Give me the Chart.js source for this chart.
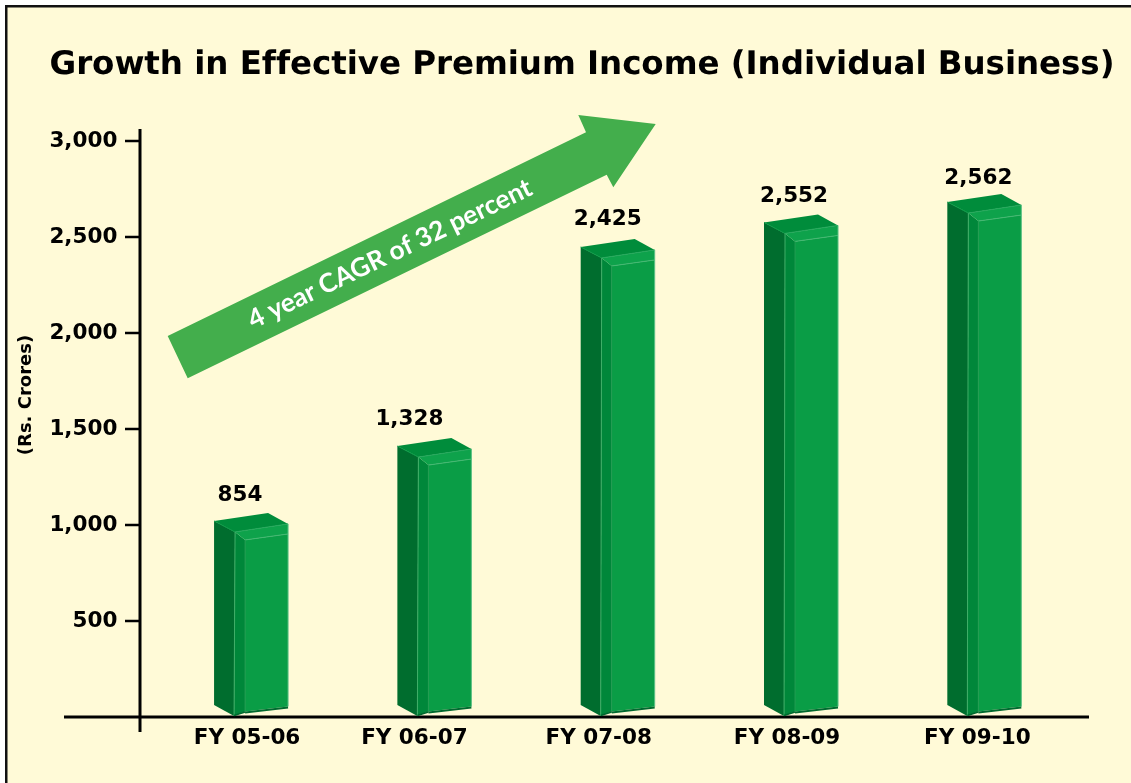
<!DOCTYPE html>
<html>
<head>
<meta charset="utf-8">
<style>html,body{margin:0;padding:0;background:#fff}canvas{display:block}</style>
<script src="https://cdn.jsdelivr.net/npm/chart.js@4"></script>
</head>
<body>
<div style="width:1131px;height:783px"><canvas id="c" width="1131" height="783"></canvas></div>
<script>
const categories = ['FY 05-06','FY 06-07','FY 07-08','FY 08-09','FY 09-10'];
const valueLabels = ['854','1,328','2,425','2,552','2,562'];
// heights of the 3D columns as drawn (rear-left top corner read against the axis)
const drawnHeights = [1021,1411,2448,2576,2682];
const yTicks = [500,1000,1500,2000,2500,3000];
const titleText = 'Growth in Effective Premium Income (Individual Business)';
const yTitle = '(Rs. Crores)';
const arrowText = '4 year CAGR of 32 percent';

const FONT = '"DejaVu Sans"';
const catShift = [-4,-20,-19,-14,-7];
const valShift = [[-11,-26],[-25,-27],[-10,-28],[-7,-26],[-6,-24]];

class Bar3DElement extends Chart.BarElement {
  static id = 'bar3d';
  draw(ctx){
    const {x,y,base,width} = this.getProps(['x','y','base','width']);
    const L = x - width/2, R = x + width/2;
    const k = width/74;
    const poly = (pts,fill)=>{ctx.beginPath();pts.forEach((p,i)=>i?ctx.lineTo(p[0],p[1]):ctx.moveTo(p[0],p[1]));ctx.closePath();ctx.fillStyle=fill;ctx.fill();};
    const line = (a,b,col,w)=>{ctx.beginPath();ctx.moveTo(a[0],a[1]);ctx.lineTo(b[0],b[1]);ctx.strokeStyle=col;ctx.lineWidth=w;ctx.stroke();};
    const tBack=[L,y], tPeak=[L+54*k,y-8], tRight=[R,y+3], tFront=[L+21*k,y+11], tInner=[L+31*k,y+19], tInnerR=[R,y+13];
    const bBack=[L,base-12], bFront=[L+20*k,base-1], bInner=[L+31*k,base-5.5], bRight=[R,base-10.5];
    ctx.save();
    poly([tBack,tFront,bFront,bBack],'#006d2e');
    poly([tFront,tInner,bInner,bFront],'#00873a');
    poly([tInner,tInnerR,bRight,bInner],'#0a9d46');
    poly([tBack,tPeak,tRight,tFront],'#008c3b');
    poly([tFront,tRight,tInnerR,tInner],'#0ea24b');
    line(tBack,tFront,'#0d9a48',1);
    line(tFront,bFront,'#3fae68',1);
    line(tFront,tRight,'#27a95e',1);
    line(tInner,tInnerR,'#45b873',1);
    line(tInner,bInner,'#1f9a50',1);
    line(tRight,bRight,'#5cc085',1);
    line([bInner[0],bInner[1]+1],[bRight[0],bRight[1]+1],'#00692f',2);
    line([bFront[0],bFront[1]-0.5],[bInner[0],bInner[1]+0.5],'#00692f',1.5);
    ctx.restore();
  }
}
class Bar3DController extends Chart.BarController {
  static id = 'bar3d';
  static defaults = {...Chart.BarController.defaults, dataElementType:'bar3d'};
}
Chart.register(Bar3DElement, Bar3DController);

const framePlugin = {
  id:'frame',
  beforeDraw(chart){
    const {ctx,width,height} = chart;
    ctx.save();
    ctx.fillStyle='#fffad7';
    ctx.fillRect(6,6,width-6,height-6);
    ctx.fillStyle='#111';
    ctx.fillRect(5,5,width-5,2.5);
    ctx.fillRect(5,5,2.5,height-5);
    // chart title
    ctx.fillStyle='#000';ctx.textAlign='left';ctx.textBaseline='middle';
    ctx.font='bold 32.5px '+FONT;
    ctx.textRendering='geometricPrecision';
    const natural=ctx.measureText(titleText).width;
    ctx.letterSpacing=((1063-natural)/titleText.length)+'px';
    ctx.fillText(titleText,49.5,66);
    ctx.letterSpacing='0px';
    ctx.textRendering='auto';
    ctx.restore();
  }
};

const annotationPlugin = {
  id:'annotations',
  beforeDatasetsDraw(chart){
    const {ctx} = chart;
    const y = chart.scales.y;
    ctx.save();
    // arrow
    const arrow=[[167.7,336],[187.7,378.3],[606.7,174.7],[613.3,187.3],[655.7,124],[578.3,115],[586,132.3]];
    ctx.beginPath();arrow.forEach((p,i)=>i?ctx.lineTo(p[0],p[1]):ctx.moveTo(p[0],p[1]));ctx.closePath();
    ctx.fillStyle='#43ae4c';ctx.fill();
    ctx.translate(390,254);ctx.rotate(-25.7*Math.PI/180);
    ctx.fillStyle='#fff';ctx.font='700 26.2px Lato';ctx.textAlign='center';ctx.textBaseline='middle';
    ctx.fillText(arrowText,0,0);
    ctx.restore();
    // axes
    ctx.save();
    ctx.fillStyle='#000';
    const y0=y.getPixelForValue(0), axX=140;
    ctx.fillRect(axX-1.5,129,3,603);
    ctx.fillRect(64,y0-1.5,1025,3);
    yTicks.forEach(v=>{ctx.fillRect(125,y.getPixelForValue(v)-1.25,15,2.5);});
    ctx.restore();
  },
  afterDatasetsDraw(chart){
    const {ctx} = chart;
    const x = chart.scales.x;
    const meta = chart.getDatasetMeta(0);
    ctx.save();
    ctx.fillStyle='#000';ctx.textAlign='center';ctx.textBaseline='middle';
    ctx.font='bold 21.5px '+FONT;
    meta.data.forEach((el,i)=>{
      ctx.fillText(valueLabels[i],el.x+valShift[i][0],el.y+valShift[i][1]);
      ctx.fillText(categories[i],x.getPixelForTick(i)+catShift[i],738);
    });
    ctx.translate(26,395);ctx.rotate(-Math.PI/2);
    ctx.font='bold 18px '+FONT;
    ctx.fillText(yTitle,0,0);
    ctx.restore();
  }
};

new Chart(document.getElementById('c'),{
  type:'bar3d',
  data:{labels:categories,datasets:[{data:drawnHeights,barThickness:74,backgroundColor:'#0a9d46'}]},
  plugins:[framePlugin,annotationPlugin],
  options:{
    responsive:false,animation:false,
    layout:{padding:{left:30,right:55,top:141,bottom:66}},
    plugins:{
      legend:{display:false},tooltip:{enabled:false},
      title:{display:false}
    },
    scales:{
      x:{type:'category',grid:{display:false,drawTicks:false},border:{display:false},ticks:{display:false},afterFit(s){s.height=0;}},
      y:{type:'linear',min:0,max:3000,
        afterBuildTicks(s){s.ticks=yTicks.map(v=>({value:v}));},
        afterFit(s){s.width=129.4;},
        grid:{display:false,drawTicks:false},border:{display:false},
        ticks:{color:'#000',font:{family:FONT,weight:'bold',size:21.5},padding:42,callback:v=>v.toLocaleString('en-US')}
      }
    }
  }
});
</script>
</body>
</html>
